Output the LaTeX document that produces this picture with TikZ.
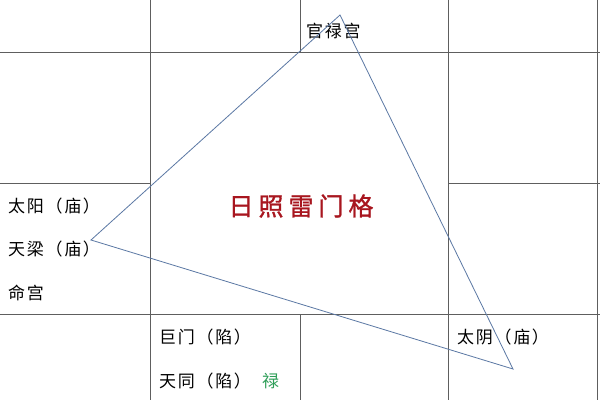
\documentclass[tikz,border=0pt]{standalone}
\usepackage{fontspec}
\newfontfamily\cjk{Noto Sans CJK SC}
\definecolor{gridgrey}{HTML}{5E5E5E}
\definecolor{triblue}{HTML}{5B78A4}
\definecolor{titlered}{HTML}{A8161F}
\definecolor{lugreen}{HTML}{2E9E58}
\begin{document}
\begin{tikzpicture}
[x=1pt,y=-1pt,
  gridline/.style={draw=gridgrey,line width=1pt},%
  triline/.style={draw=triblue,line width=0.8pt,line join=miter},%
  starlabel/.style={anchor=west,inner sep=0pt,
    font=\cjk\fontsize{17}{17}\selectfont\addfontfeature{LetterSpace=10}},%
  titlelabel/.style={inner sep=0pt,text=titlered,
    font=\cjk\fontsize{25}{25}\selectfont\addfontfeature{LetterSpace=20}}]
\useasboundingbox[fill=white] (0,0) rectangle (600,400);
%% grid of palaces
\foreach \xa/\ya/\xb/\yb in {
  150/0/150/400, 448/0/448/400, 597/0/597/400,
  300/0/300/52, 300/314/300/400,
  0/52/600/52, 0/183/150/183, 448/183/600/183, 0/314/600/314} {
  \draw[gridline] (\xa,\ya) -- (\xb,\yb);
}
%% labels
\foreach \nodename/\x/\y/\text in {
  guanlu/306/31/官禄宫, taiyang/8/206/太阳（庙）,
  tianliang/8/249/天梁（庙）, minggong/8/293/命宫,
  jumen/159/337/巨门（陷）, tiantong/159/381/天同（陷）,
  taiyin/457/337/太阴（庙）} {
  \node (\nodename) at (\x,\y) [starlabel] {\text};
}
\node (lu) [starlabel,text=lugreen] at (262,381) {禄};
\node (title) at (301,206) [titlelabel] {\addfontfeature{FakeBold=1.2}日照雷门格};
%% triangle
\coordinate (top) at (340,15);
\coordinate (left) at (91,240);
\coordinate (right) at (513,369);
\draw[triline] (top) -- (left) -- (right) -- cycle;
\end{tikzpicture}
\end{document}
